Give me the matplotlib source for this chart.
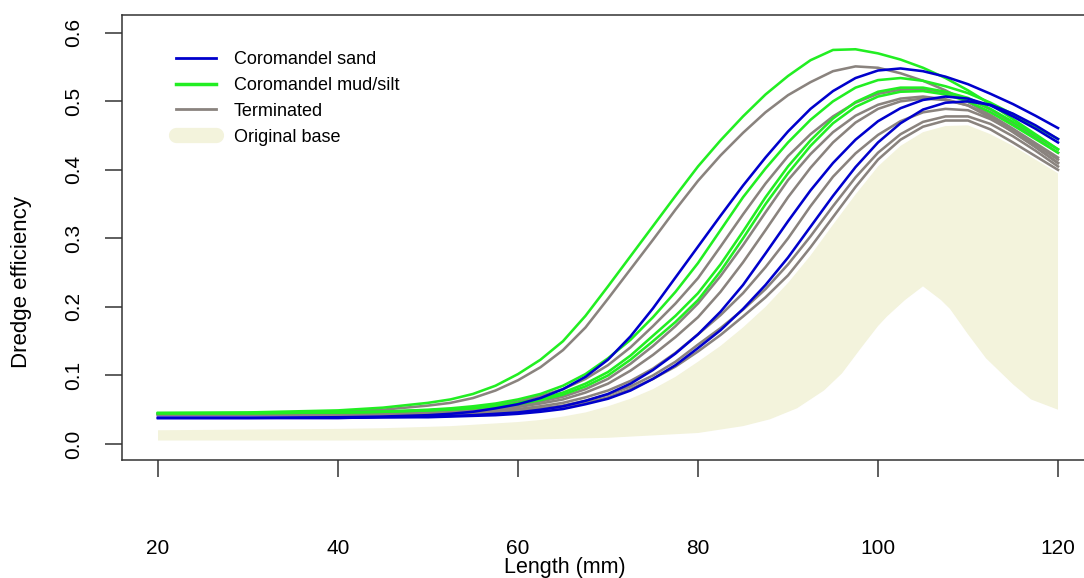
import matplotlib
matplotlib.use("Agg")
import matplotlib.pyplot as plt
from matplotlib.lines import Line2D

plt.rcParams['font.family'] = ['Liberation Sans', 'DejaVu Sans']

# ---- data ----
length = [20, 30, 40, 45, 50, 52.5, 55, 57.5, 60, 62.5, 65, 67.5, 70, 72.5, 75, 77.5, 80,
          82.5, 85, 87.5, 90, 92.5, 95, 97.5, 100, 102.5, 105, 107.5, 110, 112.5, 115, 117.5, 120]

sand_1 = [.038, .038, .039, .040, .042, .044, .047, .052, .058, .067, .080, .098, .123, .157, .198, .243, .288,
          .333, .377, .418, .456, .489, .515, .534, .545, .548, .544, .536, .525, .511, .496, .479, .461]
sand_2 = [.038, .038, .038, .039, .040, .041, .042, .044, .046, .050, .055, .063, .073, .088, .108, .132, .160,
          .193, .232, .278, .325, .370, .410, .444, .471, .490, .502, .507, .504, .494, .478, .460, .440]
sand_3 = [.038, .038, .038, .039, .039, .040, .041, .042, .044, .047, .051, .058, .066, .078, .095, .115, .140,
          .166, .197, .232, .272, .317, .362, .404, .440, .468, .488, .498, .500, .495, .482, .465, .445]

mud_1 = [.045, .046, .049, .053, .060, .065, .073, .085, .102, .123, .150, .187, .230, .274, .318, .362, .405,
         .443, .478, .510, .537, .560, .575, .576, .570, .561, .549, .534, .516, .496, .474, .452, .430]
mud_2 = [.045, .045, .046, .047, .050, .052, .055, .059, .065, .073, .085, .102, .125, .152, .185, .222, .264,
         .312, .360, .402, .440, .473, .500, .520, .531, .534, .530, .522, .512, .498, .481, .463, .445]
mud_3 = [.045, .045, .046, .047, .049, .051, .053, .056, .060, .066, .075, .088, .105, .129, .158, .187, .220,
         .262, .310, .360, .405, .443, .475, .499, .514, .520, .520, .514, .505, .489, .470, .450, .430]
mud_4 = [.045, .045, .046, .047, .049, .050, .052, .055, .058, .064, .072, .084, .100, .123, .150, .178, .210,
         .252, .300, .350, .395, .435, .468, .492, .507, .514, .515, .510, .500, .484, .465, .445, .425]

term_1 = [.043, .044, .047, .050, .056, .060, .067, .078, .093, .112, .137, .170, .212, .255, .298, .342, .384,
          .421, .454, .484, .509, .528, .544, .551, .549, .541, .530, .516, .499, .480, .460, .439, .418]
term_2 = [.044, .044, .045, .046, .048, .050, .053, .057, .062, .070, .080, .095, .115, .141, .172, .205, .242,
          .288, .335, .380, .420, .452, .478, .498, .511, .517, .518, .513, .504, .488, .468, .447, .425]
term_3 = [.044, .044, .045, .045, .047, .048, .050, .053, .056, .062, .069, .080, .095, .117, .143, .172, .205,
          .245, .290, .338, .385, .423, .455, .479, .495, .504, .507, .503, .494, .476, .455, .433, .410]
term_4 = [.044, .044, .045, .045, .046, .047, .049, .051, .054, .059, .065, .075, .088, .107, .130, .156, .185,
          .222, .265, .312, .360, .403, .440, .469, .489, .500, .504, .502, .494, .478, .458, .437, .415]
term_5 = [.043, .043, .044, .044, .045, .046, .047, .049, .051, .055, .060, .068, .078, .092, .110, .133, .160,
          .188, .220, .258, .300, .347, .390, .424, .451, .471, .484, .489, .487, .474, .456, .434, .410]
term_6 = [.043, .043, .043, .044, .044, .045, .046, .047, .049, .052, .056, .063, .072, .084, .100, .120, .145,
          .169, .196, .226, .262, .303, .347, .389, .425, .452, .470, .478, .478, .467, .449, .428, .405]
term_7 = [.043, .043, .043, .043, .044, .044, .045, .046, .048, .050, .054, .060, .068, .080, .095, .113, .135,
          .159, .186, .214, .246, .287, .331, .375, .415, .444, .463, .472, .472, .459, .440, .420, .400]

base_upper = [.020, .021, .022, .023, .025, .026, .028, .030, .032, .035, .040, .046, .055, .066, .080, .098, .120,
              .143, .170, .200, .235, .275, .320, .364, .405, .435, .455, .464, .465, .452, .435, .415, .395]
base_lower_len = [20, 40, 60, 70, 80, 85, 88, 91, 94, 96, 98, 100, 101, 103, 105, 107, 108, 110, 112, 115, 117, 120]
base_lower = [.005, .005, .006, .009, .016, .026, .036, .052, .078, .103, .138, .172, .186, .210, .230, .210, .197,
              .160, .125, .087, .065, .050]

sand_curves = [sand_1, sand_2, sand_3]
mud_curves = [mud_1, mud_2, mud_3, mud_4]
term_curves = [term_1, term_2, term_3, term_4, term_5, term_6, term_7]

x_ticks = [20, 40, 60, 80, 100, 120]
y_ticks = [0.0, 0.1, 0.2, 0.3, 0.4, 0.5, 0.6]
legend_labels = ["Coromandel sand", "Coromandel mud/silt", "Terminated", "Original base"]

# ---- styling ----
c_sand = '#0000CC'
c_mud = '#22EE22'
c_term = '#8A837E'
c_base = '#F3F3DC'

W, H = 1084, 578
fig = plt.figure(figsize=(W / 100, H / 100), dpi=100)
ax = fig.add_axes([122 / W, 1 - 460 / H, (1094 - 122) / W, (460 - 15) / H])

poly_x = list(length) + list(base_lower_len[::-1])
poly_y = list(base_upper) + list(base_lower[::-1])
ax.fill(poly_x, poly_y, color=c_base, lw=0, zorder=1)

lw = 1.85
for c in term_curves:
    ax.plot(length, c, color=c_term, lw=lw, zorder=2, solid_joinstyle='round')
for c in mud_curves:
    ax.plot(length, c, color=c_mud, lw=lw, zorder=3, solid_joinstyle='round')
for c in sand_curves:
    ax.plot(length, c, color=c_sand, lw=lw, zorder=3, solid_joinstyle='round')

ax.set_xlim(16, 124)
ax.set_ylim(-0.0234, 0.626)
ax.set_xticks(x_ticks)
ax.set_yticks(y_ticks)
ax.set_xticklabels([str(t) for t in x_ticks])
ax.set_yticklabels([f"{t:.1f}" for t in y_ticks])

for s in ax.spines.values():
    s.set_linewidth(1.1)
    s.set_color('#333333')

ax.tick_params(axis='x', direction='out', length=12, width=1.1, color='#333333',
               pad=45, labelsize=15)
ax.tick_params(axis='y', direction='out', length=12, width=1.1, color='#333333',
               pad=16, labelsize=15, labelrotation=90)
for lab in ax.get_yticklabels():
    lab.set_va('center')

fig.text(565 / W, 1 - 567 / H, "Length (mm)", ha='center', va='center', fontsize=15.5)
fig.text(22 / W, 1 - 282 / H, "Dredge efficiency", ha='center', va='center',
         rotation=90, fontsize=16)

handles = [Line2D([], [], color=c_sand, lw=2),
           Line2D([], [], color=c_mud, lw=2.5),
           Line2D([], [], color=c_term, lw=2),
           Line2D([], [], color=c_base, lw=11, solid_capstyle='round')]
ax.legend(handles, legend_labels, loc='upper left',
          bbox_to_anchor=(176 / W, 1 - 51 / H), bbox_transform=fig.transFigure,
          frameon=False, fontsize=13, handlelength=2.2, handletextpad=1.0,
          labelspacing=0.49, borderpad=0, borderaxespad=0)

fig.savefig("out.png", dpi=100)
